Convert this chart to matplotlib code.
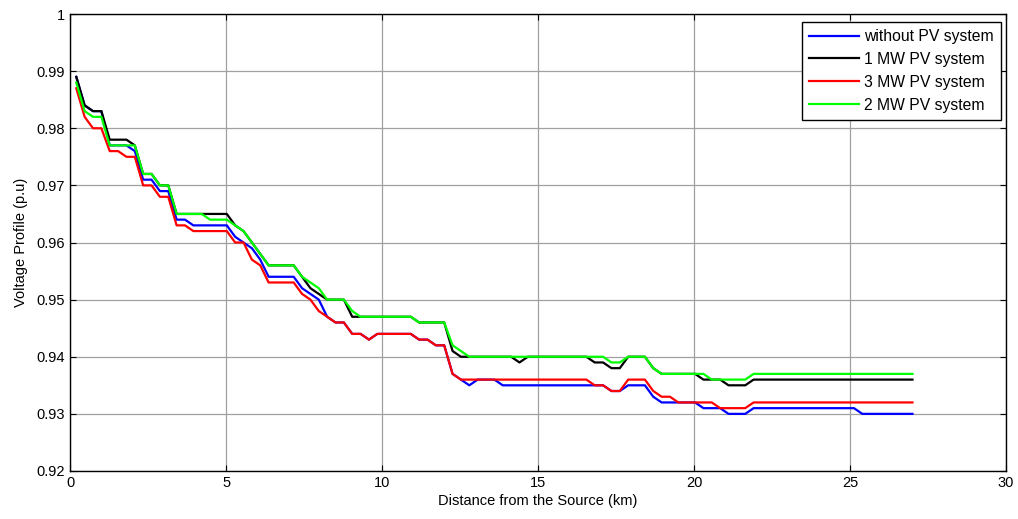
import numpy as np
import matplotlib.pyplot as plt

plt.rcParams['font.family'] = ['Liberation Sans', 'DejaVu Sans']

# bus positions along the feeder (km), uniformly spaced
distance = np.round(np.linspace(0.2, 27.0, 101), 3)

v_base = ([0.989, 0.984, 0.983, 0.983, 0.977, 0.977, 0.977, 0.976, 0.971, 0.971,
           0.969, 0.969, 0.964, 0.964, 0.963, 0.963, 0.963, 0.963, 0.963, 0.961,
           0.960, 0.959, 0.957, 0.954, 0.954, 0.954, 0.954, 0.952, 0.951, 0.950,
           0.947, 0.946, 0.946, 0.944, 0.944, 0.943, 0.944, 0.944, 0.944, 0.944,
           0.944, 0.943, 0.943, 0.942, 0.942, 0.937, 0.936, 0.935, 0.936, 0.936,
           0.936] + [0.935] * 13 + [0.934, 0.934, 0.935, 0.935, 0.935, 0.933]
          + [0.932] * 5 + [0.931] * 3 + [0.930] * 3 + [0.931] * 13 + [0.930] * 7)

v_1mw = ([0.989, 0.984, 0.983, 0.983, 0.978, 0.978, 0.978, 0.977, 0.972, 0.972,
          0.970, 0.970] + [0.965] * 7 + [0.963, 0.962, 0.960, 0.958, 0.956, 0.956,
          0.956, 0.956, 0.954, 0.952, 0.951, 0.950, 0.950, 0.950] + [0.947] * 8
         + [0.946] * 4 + [0.941] + [0.940] * 7 + [0.939] + [0.940] * 8
         + [0.939, 0.939, 0.938, 0.938, 0.940, 0.940, 0.940, 0.938] + [0.937] * 5
         + [0.936] * 3 + [0.935] * 3 + [0.936] * 20)

v_3mw = ([0.987, 0.982, 0.980, 0.980, 0.976, 0.976, 0.975, 0.975, 0.970, 0.970,
          0.968, 0.968, 0.963, 0.963] + [0.962] * 5 + [0.960, 0.960, 0.957, 0.956,
          0.953, 0.953, 0.953, 0.953, 0.951, 0.950, 0.948, 0.947, 0.946, 0.946,
          0.944, 0.944, 0.943, 0.944, 0.944, 0.944, 0.944, 0.944, 0.943, 0.943,
          0.942, 0.942, 0.937] + [0.936] * 16 + [0.935, 0.935, 0.934, 0.934,
          0.936, 0.936, 0.936, 0.934, 0.933, 0.933] + [0.932] * 5 + [0.931] * 4
         + [0.932] * 20)

v_2mw = ([0.988, 0.983, 0.982, 0.982, 0.977, 0.977, 0.977, 0.977, 0.972, 0.972,
          0.970, 0.970, 0.965, 0.965, 0.965, 0.965, 0.964, 0.964, 0.964, 0.963,
          0.962, 0.960, 0.958, 0.956, 0.956, 0.956, 0.956, 0.954, 0.953, 0.952,
          0.950, 0.950, 0.950, 0.948] + [0.947] * 7 + [0.946] * 4 + [0.942, 0.941]
         + [0.940] * 17 + [0.939, 0.939, 0.940, 0.940, 0.940, 0.938] + [0.937] * 6
         + [0.936] * 5 + [0.937] * 20)

fig = plt.figure(figsize=(10.18, 5.19), dpi=100)
ax = fig.add_axes([0.0688, 0.0925, 0.9195, 0.8805])

ax.plot(distance, v_base, color='#0000ff', lw=1.6, label='without PV system')
ax.plot(distance, v_1mw, color='#000000', lw=1.6, label='1 MW PV system')
ax.plot(distance, v_3mw, color='#ff0000', lw=1.6, label='3 MW PV system')
ax.plot(distance, v_2mw, color='#00ff00', lw=1.6, label='2 MW PV system')

ax.set_xlim(0, 30)
ax.set_ylim(0.92, 1.0)
ax.set_xticks(np.arange(0, 31, 5))
ax.set_yticks(np.arange(0.92, 1.001, 0.01))
ax.set_yticklabels(['0.92', '0.93', '0.94', '0.95', '0.96', '0.97', '0.98', '0.99', '1'])
ax.grid(True, color='#a0a0a0', lw=0.9)
ax.tick_params(direction='in', top=True, right=True, length=4, labelsize=10.5)
for s in ax.spines.values():
    s.set_linewidth(1.0)

ax.set_xlabel('Distance from the Source (km)', fontsize=10.5, labelpad=3)
ax.set_ylabel('Voltage Profile (p.u)', fontsize=10.5, labelpad=6)

leg = ax.legend(loc='upper right', fontsize=11.3, fancybox=False, framealpha=1,
                edgecolor='black', handlelength=3.2, handletextpad=0.35,
                borderpad=0.45, borderaxespad=0, labelspacing=0.5,
                bbox_to_anchor=(0.9947, 0.9825))
leg.get_frame().set_linewidth(1.0)

fig.savefig('out.png', dpi=100)
